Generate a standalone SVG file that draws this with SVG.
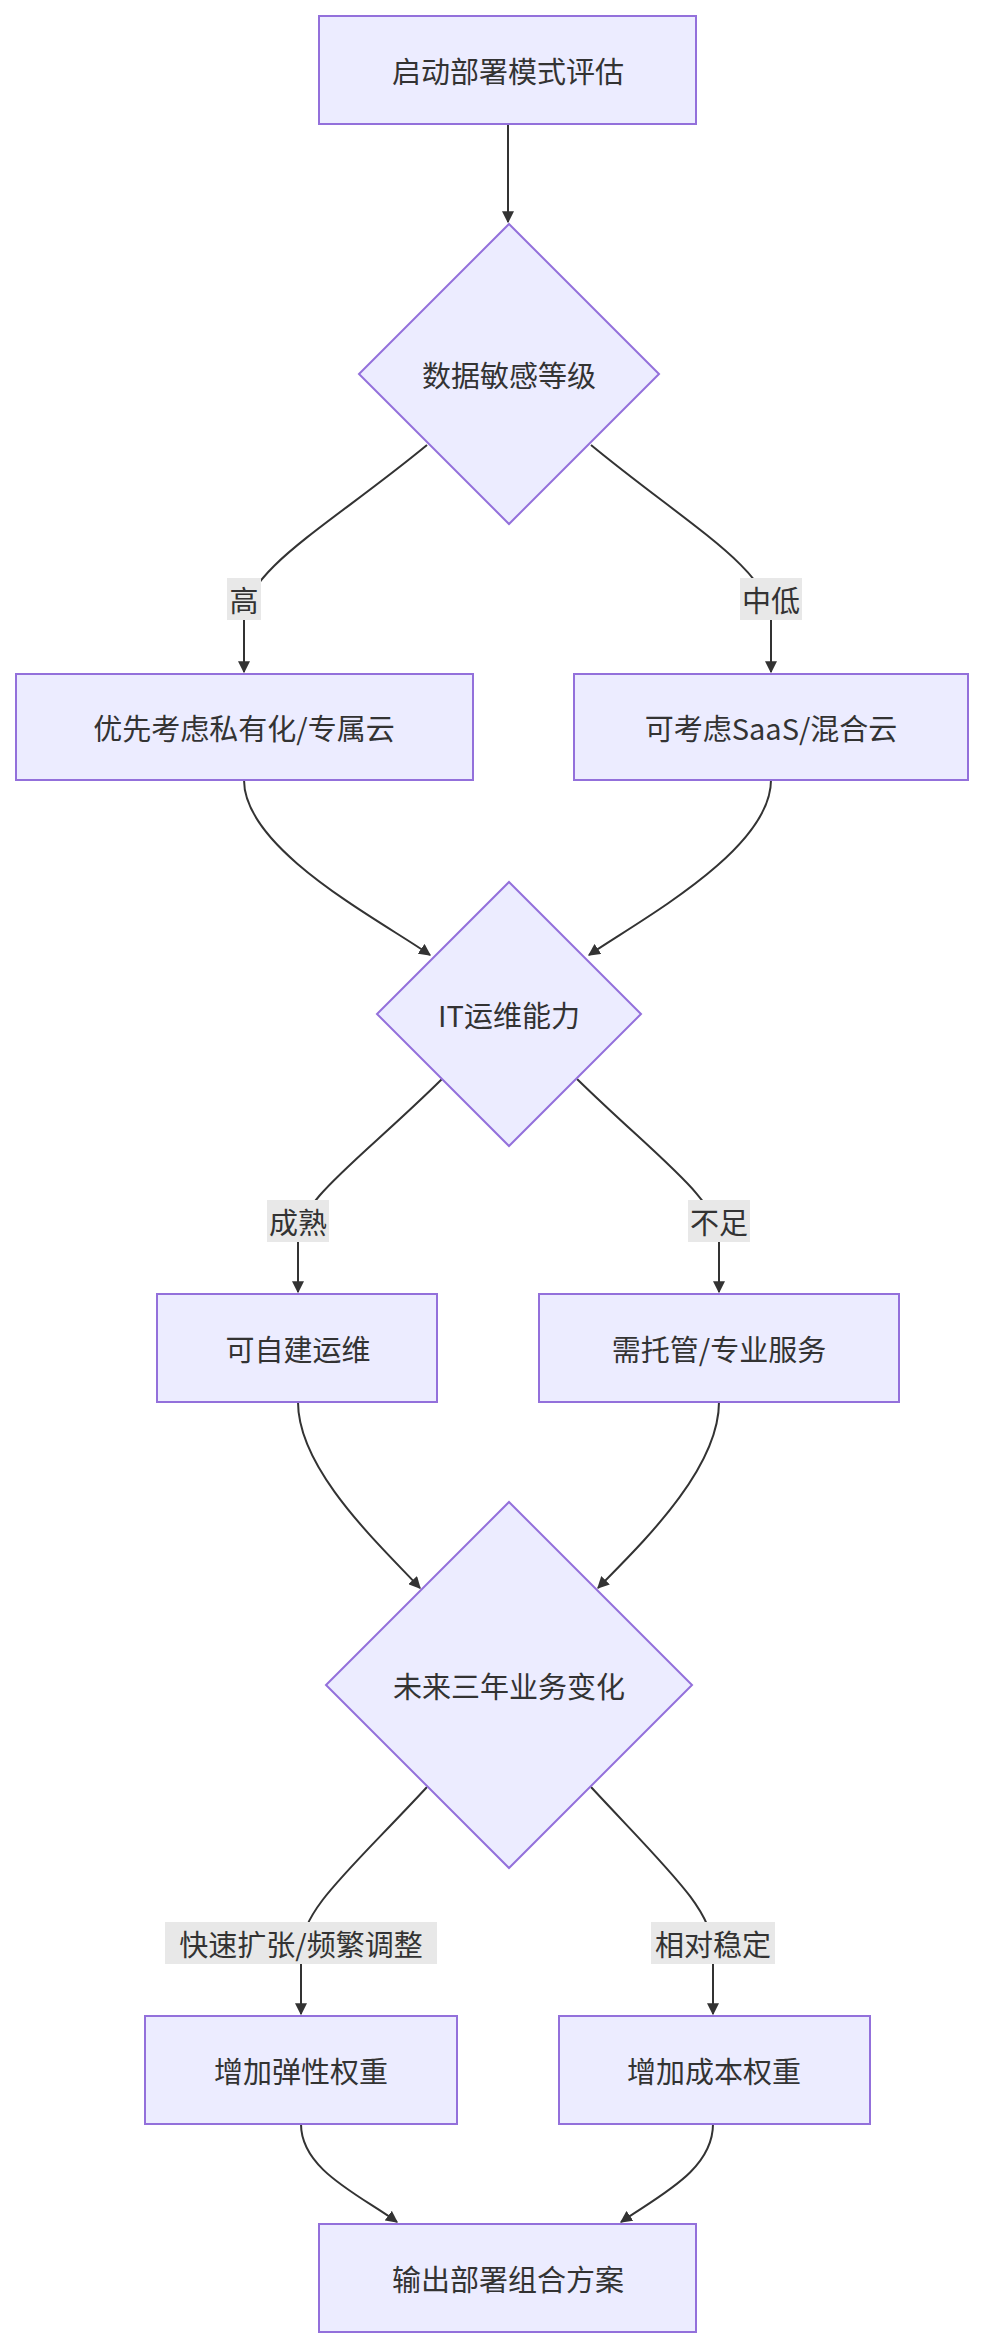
<svg xmlns="http://www.w3.org/2000/svg" width="981" height="2343" viewBox="0 0 981 2343">
<defs>
<marker id="ah" viewBox="0 0 10 10" refX="9" refY="5" markerWidth="6" markerHeight="6" orient="auto"><path d="M0,0 L10,5 L0,10 z" fill="#333"/></marker>
<style>
.n{fill:#ececff;stroke:#9370db;stroke-width:2}
.t{font-family:"Noto Sans CJK SC","Liberation Sans",sans-serif;font-size:29px;fill:#333;text-anchor:middle;dominant-baseline:central}
.e{fill:none;stroke:#333;stroke-width:2;marker-end:url(#ah)}
.lb{fill:#e8e8e8}
</style>
</defs>
<rect width="981" height="2343" fill="#fff"/>
<g id="edges">
<path class="e" d="M508,124 L508,222"/>
<path class="e" d="M427,445 C330,525 244,570 244,620 L244,672"/>
<path class="e" d="M591,445 C688,525 771,570 771,620 L771,672"/>
<path class="e" d="M244,780 C244,850 380,920 430,955"/>
<path class="e" d="M771,780 C771,850 640,920 589,955"/>
<path class="e" d="M442,1079 C360,1160 298,1200 298,1240 L298,1292"/>
<path class="e" d="M577,1079 C660,1160 719,1200 719,1240 L719,1292"/>
<path class="e" d="M298,1402 C298,1470 380,1545 420,1588"/>
<path class="e" d="M719,1402 C719,1470 640,1545 598,1588"/>
<path class="e" d="M427,1787 C350,1870 301,1910 301,1950 L301,2014"/>
<path class="e" d="M591,1787 C668,1870 713,1910 713,1950 L713,2014"/>
<path class="e" d="M301,2124 C301,2170 360,2195 397,2222"/>
<path class="e" d="M713,2124 C713,2170 660,2195 621,2222"/>
</g>
<g id="labels">
<rect class="lb" x="227" y="578" width="34" height="42"/><text class="t" x="244" y="599">高</text>
<rect class="lb" x="740" y="578" width="62" height="42"/><text class="t" x="771" y="599">中低</text>
<rect class="lb" x="267" y="1200" width="62" height="42"/><text class="t" x="298" y="1221">成熟</text>
<rect class="lb" x="688" y="1200" width="62" height="42"/><text class="t" x="719" y="1221">不足</text>
<rect class="lb" x="165" y="1922" width="272" height="42"/><text class="t" x="301" y="1943">快速扩张/频繁调整</text>
<rect class="lb" x="651" y="1922" width="124" height="42"/><text class="t" x="713" y="1943">相对稳定</text>
</g>
<g id="start"><rect class="n" x="319" y="16" width="377" height="108"/><text class="t" x="508" y="70">启动部署模式评估</text></g>
<g id="d1"><polygon class="n" points="509,224 659,374 509,524 359,374"/><text class="t" x="509" y="374">数据敏感等级</text></g>
<g id="high"><rect class="n" x="16" y="674" width="457" height="106"/><text class="t" x="244" y="727">优先考虑私有化/专属云</text></g>
<g id="low"><rect class="n" x="574" y="674" width="394" height="106"/><text class="t" x="771" y="727">可考虑SaaS/混合云</text></g>
<g id="d2"><polygon class="n" points="509,882 641,1014 509,1146 377,1014"/><text class="t" x="509" y="1014">IT运维能力</text></g>
<g id="self"><rect class="n" x="157" y="1294" width="280" height="108"/><text class="t" x="298" y="1348">可自建运维</text></g>
<g id="managed"><rect class="n" x="539" y="1294" width="360" height="108"/><text class="t" x="719" y="1348">需托管/专业服务</text></g>
<g id="d3"><polygon class="n" points="509,1502 692,1685 509,1868 326,1685"/><text class="t" x="509" y="1685">未来三年业务变化</text></g>
<g id="elastic"><rect class="n" x="145" y="2016" width="312" height="108"/><text class="t" x="301" y="2070">增加弹性权重</text></g>
<g id="cost"><rect class="n" x="559" y="2016" width="311" height="108"/><text class="t" x="714" y="2070">增加成本权重</text></g>
<g id="end"><rect class="n" x="319" y="2224" width="377" height="108"/><text class="t" x="508" y="2278">输出部署组合方案</text></g>
</svg>
